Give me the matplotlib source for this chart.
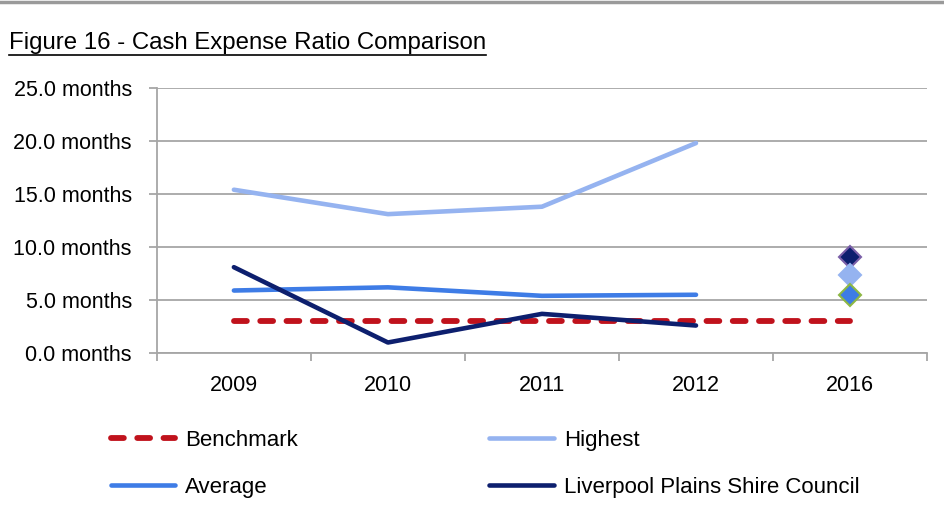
import matplotlib
matplotlib.use("Agg")
import matplotlib.pyplot as plt
from matplotlib.lines import Line2D

# Cash expense ratio, in months of cash expenses held
years = ["2009", "2010", "2011", "2012", "2016"]
benchmark = [3.0, 3.0, 3.0, 3.0, 3.0]
highest = [15.4, 13.1, 13.8, 19.8]
average = [5.9, 6.2, 5.4, 5.5]
council = [8.1, 1.0, 3.7, 2.6]

# 2016 projected points
highest_2016 = 7.4
average_2016 = 5.5
council_2016 = 9.1

plt.rcParams["font.family"] = ["Liberation Sans", "DejaVu Sans"]

c_bench = "#C0121C"
c_high = "#95B3F0"
c_avg = "#3E7CE6"
c_council = "#0D1F6E"
grid_col = "#A6A6A6"

fig = plt.figure(figsize=(9.45, 5.17), dpi=100)
ax = fig.add_axes([0.166, 0.317, 0.815, 0.513])

xs = list(range(len(years)))

ax.plot(xs, benchmark, color=c_bench, lw=4.2, ls=(0, (2.2, 2.3)),
        dash_capstyle="round", label="Benchmark", zorder=3)
ax.plot(xs[:4], highest, color=c_high, lw=3.3, solid_capstyle="round",
        label="Highest", zorder=3)
ax.plot(xs[:4], average, color=c_avg, lw=3.3, solid_capstyle="round",
        label="Average", zorder=3)
ax.plot(xs[:4], council, color=c_council, lw=3.3, solid_capstyle="round",
        label="Liverpool Plains Shire Council", zorder=4)

ax.plot([4], [council_2016], marker="D", ms=11, color=c_council,
        mec="#7A5FA8", mew=1.5, ls="none", zorder=5)
ax.plot([4], [highest_2016], marker="D", ms=11, color=c_high,
        mec=c_high, mew=1.5, ls="none", zorder=5)
ax.plot([4], [average_2016], marker="D", ms=11, color=c_avg,
        mec="#8DB844", mew=1.5, ls="none", zorder=5)

ax.set_xlim(-0.5, 4.5)
ax.set_ylim(0, 25)
ax.set_yticks([0, 5, 10, 15, 20, 25])
ax.set_yticklabels(["%.1f months" % v for v in [0, 5, 10, 15, 20, 25]])
ax.set_xticks([i - 0.5 for i in range(len(years) + 1)])
ax.set_xticklabels([])
ax.set_xticks(xs, minor=True)
ax.set_xticklabels(years, minor=True)
ax.tick_params(axis="x", which="major", length=6, width=1.3, color=grid_col)
ax.tick_params(axis="x", which="minor", length=0, pad=16, labelsize=15.5)
ax.tick_params(axis="y", length=6, width=1.3, color=grid_col, labelsize=15.5, pad=12)

ax.yaxis.grid(True, color=grid_col, lw=1.3)
ax.set_axisbelow(True)
for side in ["top", "right"]:
    ax.spines[side].set_visible(False)
for side in ["left", "bottom"]:
    ax.spines[side].set_color(grid_col)
    ax.spines[side].set_linewidth(1.3)

handles, labels = ax.get_legend_handles_labels()
order = [0, 2, 1, 3]
fig.legend([handles[i] for i in order], [labels[i] for i in order],
           loc="upper left", bbox_to_anchor=(0.108, 0.185), ncol=2,
           frameon=False, fontsize=16, handlelength=2.9, handletextpad=0.45,
           columnspacing=8.6, labelspacing=1.15, borderaxespad=0)

title = fig.text(0.009, 0.905, "Figure 16 - Cash Expense Ratio Comparison",
                 fontsize=17.3, ha="left", va="baseline")

# underline the title
fig.canvas.draw()
bb = title.get_window_extent().transformed(fig.transFigure.inverted())
fig.add_artist(Line2D([bb.x0, bb.x1], [0.893, 0.893], color="black", lw=1.2,
                      transform=fig.transFigure))
fig.add_artist(Line2D([0, 1], [0.996, 0.996], color="#9A9A9A", lw=2.5,
                      transform=fig.transFigure))

fig.savefig("out.png", dpi=100)
